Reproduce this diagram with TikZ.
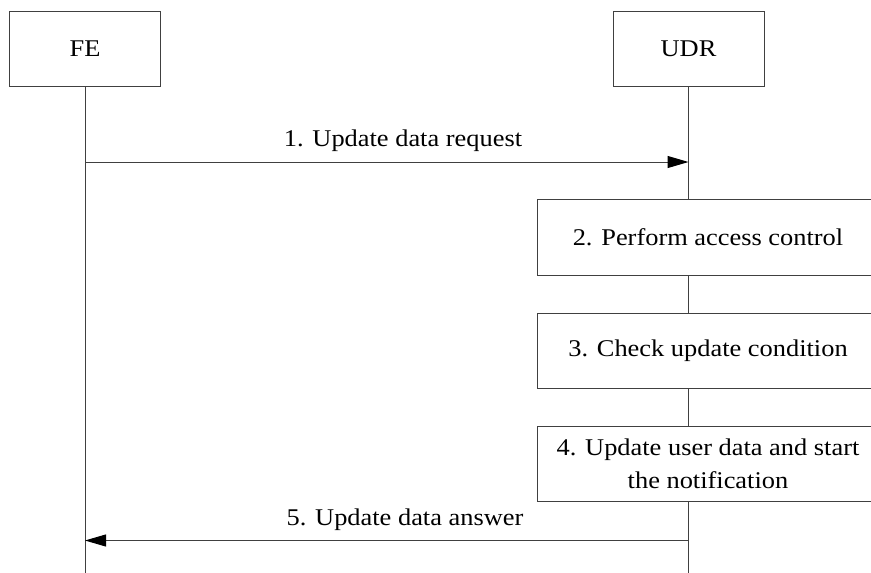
\documentclass[tikz,border=0pt]{standalone}
\usepackage{fontspec}
\setmainfont[FakeStretch=1.1]{Liberation Serif}
\usetikzlibrary{arrows.meta}
\begin{document}
\begin{tikzpicture}[x=1pt,y=-1pt,
  ln/.style={line width=1pt, draw=black!75},
  entity/.style={ln, fill=white, minimum width=151pt, minimum height=75.5pt, inner sep=0pt, font=\fontsize{24}{33}\selectfont},
  action/.style={ln, fill=white, minimum width=341pt, minimum height=75.5pt, inner sep=0pt, align=center, font=\fontsize{24}{33}\selectfont},
  msg/.style={ln, -{Triangle[length=21pt, width=12pt, color=black]}},
  lbl/.style={anchor=base, inner sep=0pt, font=\fontsize{24}{33}\selectfont}]
\useasboundingbox (0,0) rectangle (871,573);
\clip (0,0) rectangle (871,573);
\fill[white] (0,0) rectangle (871,573);
\coordinate (fetop) at (85,49);
\coordinate (udrtop) at (688.5,49);
\coordinate (feend) at (85,574);
\coordinate (udrend) at (688.5,574);
\draw[ln] (fetop) -- (feend);
\draw[ln] (udrtop) -- (udrend);
\node[entity] (fe) at (fetop) {FE};
\node[entity] (udr) at (udrtop) {UDR};
\coordinate (fe1) at (85,162);
\coordinate (udr1) at (688.5,162);
\coordinate (fe5) at (85,540.5);
\coordinate (udr5) at (688.5,540.5);
\node[action] (s2) at (708,237.5) {2. Perform access control};
\node[action] (s3) at (708,351) {3. Check update condition};
\node[action] (s4) at (708,464) {4. Update user data and start\\the notification};
\draw[msg] (fe1) -- (udr1);
\node[lbl] (l1) at (403,146.7) {1. Update data request};
\draw[msg] (udr5) -- (fe5);
\node[lbl] (l5) at (405,525) {5. Update data answer};
\end{tikzpicture}
\end{document}
